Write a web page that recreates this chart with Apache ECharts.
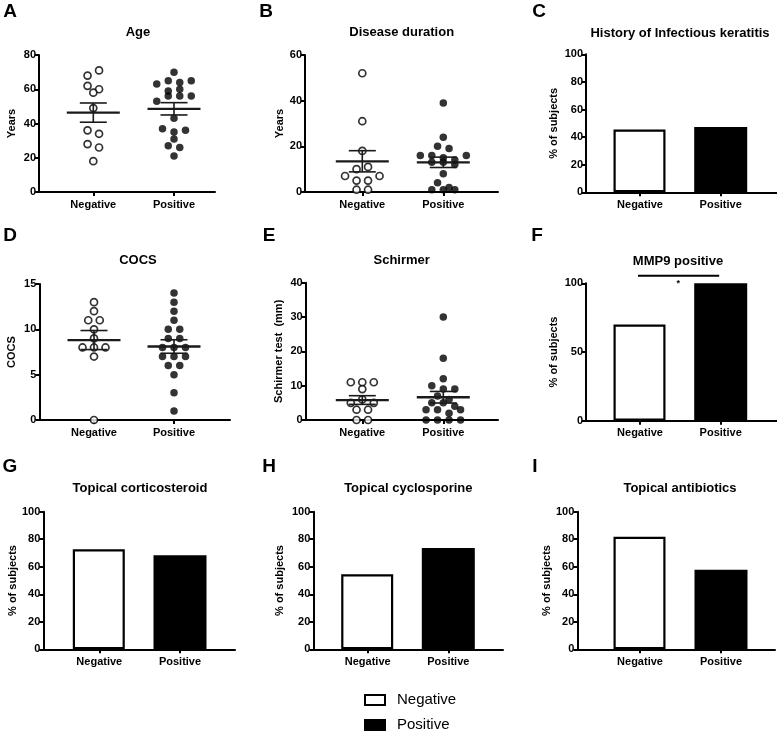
<!DOCTYPE html>
<html><head><meta charset="utf-8">
<script src="https://cdn.jsdelivr.net/npm/echarts@6/dist/echarts.min.js"></script>
<style>html,body{margin:0;padding:0;background:#fff}#c{width:777px;height:732px}</style>
</head><body><div id="c"></div>
<script>
// ---------- DATA ----------
const categories = ['Negative', 'Positive'];
// scatter panels (values listed row by row, left to right)
const ageNegative = [68, 71, 62, 60, 58, 49, 36, 34, 28, 26, 18];
const agePositive = [70, 63, 65, 64, 65, 59, 60, 53, 56, 56, 56, 43, 37, 35, 36, 31, 27, 26, 21];
const durationNegative = [52, 31, 18, 10, 11, 7, 5, 5, 7, 1, 1];
const durationPositive = [39, 24, 20, 19, 16, 16, 15, 14, 16, 13, 13, 12, 8, 4, 1, 1, 2, 1];
const cocsNegative = [13, 12, 11, 11, 10, 9, 8, 8, 8, 7, 0];
const cocsPositive = [14, 13, 12, 11, 10, 10, 9, 9, 8, 8, 8, 7, 7, 7, 6, 6, 5, 3, 1];
const schirmerNegative = [11, 11, 11, 9, 5, 6, 5, 3, 3, 0, 0];
const schirmerPositive = [30, 18, 12, 10, 9, 9, 7, 6, 5, 5, 4, 3, 3, 2, 3, 0, 0, 0, 0];
// bar panels: % of subjects [Negative, Positive]
const infectiousKeratitis = [45.5, 47.4];
const mmp9Positive = [70, 100];
const topicalCorticosteroid = [72.7, 68.4];
const topicalCyclosporine = [54.5, 73.7];
const topicalAntibiotics = [81.8, 57.9];
// tick labels
const ageTicks = [0, 20, 40, 60, 80];
const durationTicks = [0, 20, 40, 60];
const cocsTicks = [0, 5, 10, 15];
const schirmerTicks = [0, 10, 20, 30, 40];
const percentTicks = [0, 20, 40, 60, 80, 100];
const mmp9Ticks = [0, 50, 100];

// ---------- LAYOUT ----------
const FONT = "'Liberation Sans', Arial, Helvetica, sans-serif";
const panels = [
  {letter:'A', title:'Age', yName:'Years', ticks:ageTicks, left:39, right:215, top:55, bottom:192, negX:93.3, posX:174, nameGap:22, lx:10, ly:12, tx:138, ty:32},
  {letter:'B', title:'Disease duration', yName:'Years', ticks:durationTicks, left:305, right:498, top:55, bottom:192, negX:362.3, posX:443.3, nameGap:20, lx:266, ly:12, tx:401.7, ty:32},
  {letter:'C', title:'History of Infectious keratitis', yName:'% of subjects', ticks:percentTicks, left:586, right:777, top:54.3, bottom:192.3, negX:640, posX:720.7, nameGap:27, lx:539, ly:12, tx:680, ty:33},
  {letter:'D', title:'COCS', yName:'COCS', ticks:cocsTicks, left:39.3, right:230, top:284, bottom:420, negX:94, posX:174, nameGap:22, lx:10, ly:236, tx:138, ty:260},
  {letter:'E', title:'Schirmer', yName:'Schirmer test  (mm)', ticks:schirmerTicks, left:305.7, right:498, top:282.7, bottom:420, negX:362.3, posX:443.3, nameGap:21, lx:269, ly:236, tx:401.7, ty:260},
  {letter:'F', title:'MMP9 positive', yName:'% of subjects', ticks:mmp9Ticks, left:586, right:777, top:283.3, bottom:420.7, negX:640, posX:720.7, nameGap:27, lx:537, ly:236, tx:678, ty:261},
  {letter:'G', title:'Topical corticosteroid', yName:'% of subjects', ticks:percentTicks, left:43.3, right:235, top:511.7, bottom:649.3, negX:99.3, posX:180, nameGap:25, lx:10, ly:467, tx:140, ty:488},
  {letter:'H', title:'Topical cyclosporine', yName:'% of subjects', ticks:percentTicks, left:313.3, right:503, top:511.7, bottom:649.3, negX:367.7, posX:448.3, nameGap:28, lx:269, ly:467, tx:408.3, ty:488},
  {letter:'I', title:'Topical antibiotics', yName:'% of subjects', ticks:percentTicks, left:577.3, right:775, top:511.7, bottom:649.3, negX:640, posX:721, nameGap:20, lx:535, ly:467, tx:680, ty:488}
];
const scatterPanels = [
  {idx:0, neg:ageNegative, pos:agePositive},
  {idx:1, neg:durationNegative, pos:durationPositive},
  {idx:3, neg:cocsNegative, pos:cocsPositive},
  {idx:4, neg:schirmerNegative, pos:schirmerPositive}
];
const barPanels = [
  {idx:2, vals:infectiousKeratitis},
  {idx:5, vals:mmp9Positive},
  {idx:6, vals:topicalCorticosteroid},
  {idx:7, vals:topicalCyclosporine},
  {idx:8, vals:topicalAntibiotics}
];

// ---------- HELPERS ----------
function mean(a){ return a.reduce((s,v)=>s+v,0)/a.length; }
function sem(a){ const m=mean(a); const v=a.reduce((s,x)=>s+(x-m)*(x-m),0)/(a.length-1); return Math.sqrt(v/a.length); }
// GraphPad-like row beeswarm
function swarm(vals, center, pxPerY, pxPerX){
  const SPACING = 11.5, BIN = 6.5;
  const order = vals.map((v,i)=>({v,i})).sort((a,b)=> b.v-a.v || a.i-b.i);
  const rows = [];
  let cur = null;
  order.forEach(p=>{
    if(!cur || (cur.start - p.v)*pxPerY > BIN){ cur = {start:p.v, pts:[]}; rows.push(cur); }
    cur.pts.push(p);
  });
  const out = [];
  rows.forEach(r=>{
    r.pts.sort((a,b)=>a.i-b.i);
    const n = r.pts.length;
    r.pts.forEach((p,k)=>{
      const off = (k-(n-1)/2)*SPACING;
      out.push([center + off/pxPerX, p.v]);
    });
  });
  return out;
}

// ---------- OPTION ----------
const grids=[], xAxes=[], yAxes=[], series=[], graphics=[];
panels.forEach((p,i)=>{
  const pxX = p.posX - p.negX;
  const yMax = p.ticks[p.ticks.length-1];
  const yInt = p.ticks[1]-p.ticks[0];
  grids.push({left:p.left, top:p.top, width:p.right-p.left, height:p.bottom-p.top, outerBoundsMode:'none', containLabel:false});
  xAxes.push({
    type:'value', gridIndex:i,
    min: 1 - (p.negX - p.left)/pxX, max: 2 + (p.right - p.posX)/pxX,
    splitLine:{show:false},
    axisLine:{show:true, onZero:false, lineStyle:{color:'#000', width:2}},
    axisTick:{show:true, customValues:[1,2], length:4, lineStyle:{color:'#000', width:2}},
    axisLabel:{show:true, customValues:[1,2], margin:7, color:'#000', fontSize:11, fontWeight:'bold', fontFamily:FONT,
      formatter:v=>categories[Math.round(v)-1] || ''}
  });
  yAxes.push({
    type:'value', gridIndex:i, min:p.ticks[0], max:yMax, interval:yInt,
    name:p.yName, nameLocation:'middle', nameRotate:90, nameGap:p.nameGap,
    nameTextStyle:{color:'#000', fontSize:11, fontWeight:'bold', fontFamily:FONT},
    splitLine:{show:false},
    axisLine:{show:true, onZero:false, lineStyle:{color:'#000', width:2}},
    axisTick:{show:true, length:4, lineStyle:{color:'#000', width:2}},
    axisLabel:{margin:3, color:'#000', fontSize:11, fontWeight:'bold', fontFamily:FONT}
  });
  graphics.push({type:'text', x:p.lx, y:p.ly, style:{text:p.letter, textAlign:'center', textVerticalAlign:'middle', fill:'#000', font:'bold 19px '+FONT}});
  graphics.push({type:'text', x:p.tx, y:p.ty, style:{text:p.title, textAlign:'center', textVerticalAlign:'middle', fill:'#000', font:'bold 13px '+FONT}});
});

scatterPanels.forEach(s=>{
  const p = panels[s.idx];
  const pxX = p.posX - p.negX;
  const yMax = p.ticks[p.ticks.length-1];
  const pxY = (p.bottom - p.top)/(yMax - p.ticks[0]);
  series.push({type:'scatter', name:'negDots'+s.idx, xAxisIndex:s.idx, yAxisIndex:s.idx, clip:false,
    symbol:'circle', symbolSize:7, data:swarm(s.neg,1,pxY,pxX),
    itemStyle:{color:'#fff', borderColor:'#000', borderWidth:1.7}, silent:true, z:3});
  series.push({type:'scatter', name:'posDots'+s.idx, xAxisIndex:s.idx, yAxisIndex:s.idx, clip:false,
    symbol:'circle', symbolSize:7.5, data:swarm(s.pos,2,pxY,pxX),
    itemStyle:{color:'#000', borderColor:'#000', borderWidth:0}, silent:true, z:3});
  series.push({type:'custom', name:'meanSem'+s.idx, xAxisIndex:s.idx, yAxisIndex:s.idx, clip:false, z:4, silent:true,
    data:[[1, mean(s.neg), sem(s.neg)], [2, mean(s.pos), sem(s.pos)]],
    renderItem:(params, api)=>{
      const x=api.value(0), m=api.value(1), e=api.value(2);
      const c=api.coord([x,m]), t=api.coord([x,m+e]), b=api.coord([x,m-e]);
      const st={stroke:'#1a1a1a', lineWidth:1.6}, sm={stroke:'#1a1a1a', lineWidth:2.3};
      return {type:'group', children:[
        {type:'line', shape:{x1:c[0]-26.5,y1:c[1],x2:c[0]+26.5,y2:c[1]}, style:sm},
        {type:'line', shape:{x1:c[0],y1:t[1],x2:c[0],y2:b[1]}, style:st},
        {type:'line', shape:{x1:c[0]-13.5,y1:t[1],x2:c[0]+13.5,y2:t[1]}, style:st},
        {type:'line', shape:{x1:c[0]-13.5,y1:b[1],x2:c[0]+13.5,y2:b[1]}, style:st}
      ]};
    }});
});

barPanels.forEach(b=>{
  series.push({type:'bar', name:'Negative', xAxisIndex:b.idx, yAxisIndex:b.idx, barWidth:52, barGap:'-100%',
    data:[[1, b.vals[0]]], itemStyle:{color:'#fff', borderColor:'#000', borderWidth:2.2}, silent:true});
  series.push({type:'bar', name:'Positive', xAxisIndex:b.idx, yAxisIndex:b.idx, barWidth:53, barGap:'-100%',
    data:[[2, b.vals[1]]], itemStyle:{color:'#000', borderColor:'#000', borderWidth:0}, silent:true});
});

// significance bracket on MMP9 panel
series.push({type:'custom', name:'signif', xAxisIndex:5, yAxisIndex:5, clip:false, silent:true, z:5,
  data:[[1, 2, 105.5]],
  renderItem:(params, api)=>{
    const a=api.coord([api.value(0), api.value(2)]), c=api.coord([api.value(1), api.value(2)]);
    return {type:'group', children:[
      {type:'line', shape:{x1:a[0]-2,y1:a[1],x2:c[0]-1.5,y2:c[1]}, style:{stroke:'#000', lineWidth:1.8}},
      {type:'text', x:(a[0]+c[0])/2-2, y:a[1]+8, style:{text:'*', textAlign:'center', textVerticalAlign:'middle', fill:'#000', font:'bold 9px '+FONT}}
    ]};
  }});

// legend drawn as graphic elements (Negative / Positive keys)
const legendItems = [
  {name:categories[0], fill:'#fff', y:700},
  {name:categories[1], fill:'#000', y:725}
];
legendItems.forEach(it=>{
  graphics.push({type:'rect', x:365, y:it.y-5, shape:{width:20, height:10}, style:{fill:it.fill, stroke:'#000', lineWidth:2}});
  graphics.push({type:'text', x:397, y:it.y, style:{text:it.name, textAlign:'left', textVerticalAlign:'middle', fill:'#000', font:'15px '+FONT}});
});

const option = {
  animation:false,
  backgroundColor:'#fff',
  grid:grids, xAxis:xAxes, yAxis:yAxes, series:series,
  graphic:graphics
};
const chart = echarts.init(document.getElementById('c'), null, {renderer:'canvas'});
chart.setOption(option);
</script>
</body></html>
